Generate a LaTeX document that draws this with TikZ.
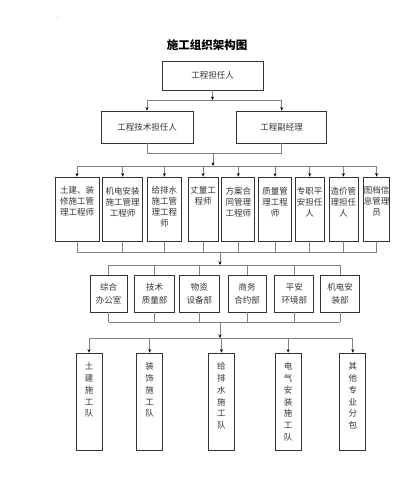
\documentclass[tikz,border=0pt]{standalone}
\usepackage{fontspec}
\setmainfont{Noto Sans CJK SC}
\usetikzlibrary{arrows.meta, positioning}

\begin{document}
\begin{tikzpicture}[
    x=1pt, y=-1pt,
    box/.style={
        rectangle, draw=black!80, line width=0.7pt,
        inner sep=0pt, align=center, text=black!80,
        font=\fontsize{8.5}{13}\selectfont
    },
    txt/.style={
        align=center, inner sep=0pt, text=black!80,
        font=\fontsize{8.5}{11}\selectfont
    },
    vtxt/.style={
        txt, font=\fontsize{8.5}{11.7}\selectfont
    },
    line/.style={draw=black!50, line width=0.8pt},
    arr/.style={line, -{Stealth[black, length=3.5pt, width=3pt]}},
]
\useasboundingbox (0,0) rectangle (404,494);

% Title
\node (dot) at (58,18) {\tiny .};
\node[font=\fontsize{11.5}{13}\selectfont\bfseries] (title) at (207,45) {施工组织架构图};

% Head and deputies
\node[box, minimum width=101pt, minimum height=29pt] (top) at (212.5,75.5) {工程担任人};
\node[box, minimum width=92pt, minimum height=32pt] (tech) at (147,127) {工程技术担任人};
\node[box, minimum width=90pt, minimum height=32pt, right=43pt of tech] (vice) {工程副经理};

% Engineers (row 3)
\node[box, minimum width=44pt, minimum height=64pt] (e1) at (77,209) {};
\node[box, minimum width=40pt, minimum height=64pt, right=3pt of e1] (e2) {};
\node[box, minimum width=34pt, minimum height=64pt, right=4pt of e2] (e3) {};
\node[box, minimum width=30pt, minimum height=64pt, right=6pt of e3] (e4) {};
\node[box, minimum width=33pt, minimum height=64pt, right=3pt of e4] (e5) {};
\node[box, minimum width=33pt, minimum height=64pt, right=3pt of e5] (e6) {};
\node[box, minimum width=29pt, minimum height=64pt, right=3pt of e6] (e7) {};
\node[box, minimum width=29pt, minimum height=64pt, right=4pt of e7] (e8) {};
\node[box, minimum width=26pt, minimum height=64pt, right=5pt of e8] (e9) {};

\node[txt, below=10pt of e1.north] (e1t) {土建、装\\修施工管\\理工程师};
\node[txt, below=10pt of e2.north] (e2t) {机电安装\\施工管理\\工程师};
\node[txt, below=10pt of e3.north] (e3t) {给排水\\施工管\\理工程\\师};
\node[txt, below=10pt of e4.north] (e4t) {丈量工\\程师};
\node[txt, below=10pt of e5.north] (e5t) {方案合\\同管理\\工程师};
\node[txt, below=10pt of e6.north] (e6t) {质量管\\理工程\\师};
\node[txt, below=10pt of e7.north] (e7t) {专职平\\安担任\\人};
\node[txt, below=10pt of e8.north] (e8t) {造价管\\理担任\\人};
\node[txt, below=10pt of e9.north] (e9t) {图档信\\息管理\\员};

% Departments (row 4)
\node[box, minimum width=37pt, minimum height=37pt] (r1) at (108.5,293.5) {综合\\办公室};
\node[box, minimum width=40pt, minimum height=37pt, right=7pt of r1] (r2) {技术\\质量部};
\node[box, minimum width=40pt, minimum height=37pt, right=4pt of r2] (r3) {物资\\设备部};
\node[box, minimum width=38pt, minimum height=37pt, right=8pt of r3] (r4) {商务\\合约部};
\node[box, minimum width=39pt, minimum height=37pt, right=8pt of r4] (r5) {平安\\环境部};
\node[box, minimum width=39pt, minimum height=37pt, right=6pt of r5] (r6) {机电安\\装部};

% Work teams (row 5)
\node[box, minimum width=26pt, minimum height=97pt] (g1) at (89,401.5) {};
\node[box, minimum width=26pt, minimum height=97pt, right=34pt of g1] (g2) {};
\node[box, minimum width=26pt, minimum height=97pt, right=45pt of g2] (g3) {};
\node[box, minimum width=26pt, minimum height=97pt, right=40pt of g3] (g4) {};
\node[box, minimum width=26pt, minimum height=97pt, right=38pt of g4] (g5) {};

\node[vtxt, below=10pt of g1.north] (g1t) {土\\建\\施\\工\\队};
\node[vtxt, below=10pt of g2.north] (g2t) {装\\饰\\施\\工\\队};
\node[vtxt, below=10pt of g3.north] (g3t) {给\\排\\水\\施\\工\\队};
\node[vtxt, below=10pt of g4.north] (g4t) {电\\气\\安\\装\\施\\工\\队};
\node[vtxt, below=10pt of g5.north] (g5t) {其\\他\\专\\业\\分\\包};

% Bus coordinates
\coordinate (b1) at (212.5,100);
\coordinate (b2) at (213,153);
\coordinate (b3) at (213,166);
\coordinate (b4) at (220,252);
\coordinate (b5) at (220,265);
\coordinate (b6) at (220,322);
\coordinate (b7) at (220,338);

% Head to deputies
\draw[arr] (top.south) -- (b1);
\draw[line] (tech.north |- b1) -- (vice.north |- b1);
\draw[arr] (tech.north |- b1) -- (tech.north);
\draw[arr] (vice.north |- b1) -- (vice.north);

% Deputies to engineers
\draw[line] (tech.south) -- (tech.south |- b2) -- (vice.south |- b2) -- (vice.south);
\draw[arr] (b2) -- (b3);
\draw[line] (e1.north |- b3) -- (e9.north |- b3);
\foreach \n in {1,...,9}
    \draw[arr] (e\n.north |- b3) -- (e\n.north);

% Engineers to departments
\foreach \n in {1,...,9}
    \draw[line] (e\n.south) -- (e\n.south |- b4);
\draw[line] (e1.south |- b4) -- (e9.south |- b4);
\draw[arr] (b4) -- (b5);
\draw[line] (r1.north |- b5) -- (r6.north |- b5);
\foreach \n in {1,...,6}
    \draw[line] (r\n.north |- b5) -- (r\n.north);

% Departments to work teams
\foreach \n in {1,...,6}
    \draw[line] (r\n.south) -- (r\n.south |- b6);
\draw[line] (r1.south |- b6) -- (r6.south |- b6);
\draw[arr] (b6) -- (b7);
\draw[line] (g1.north |- b7) -- (g5.north |- b7);
\foreach \n in {1,...,5}
    \draw[arr] (g\n.north |- b7) -- (g\n.north);

\end{tikzpicture}
\end{document}
